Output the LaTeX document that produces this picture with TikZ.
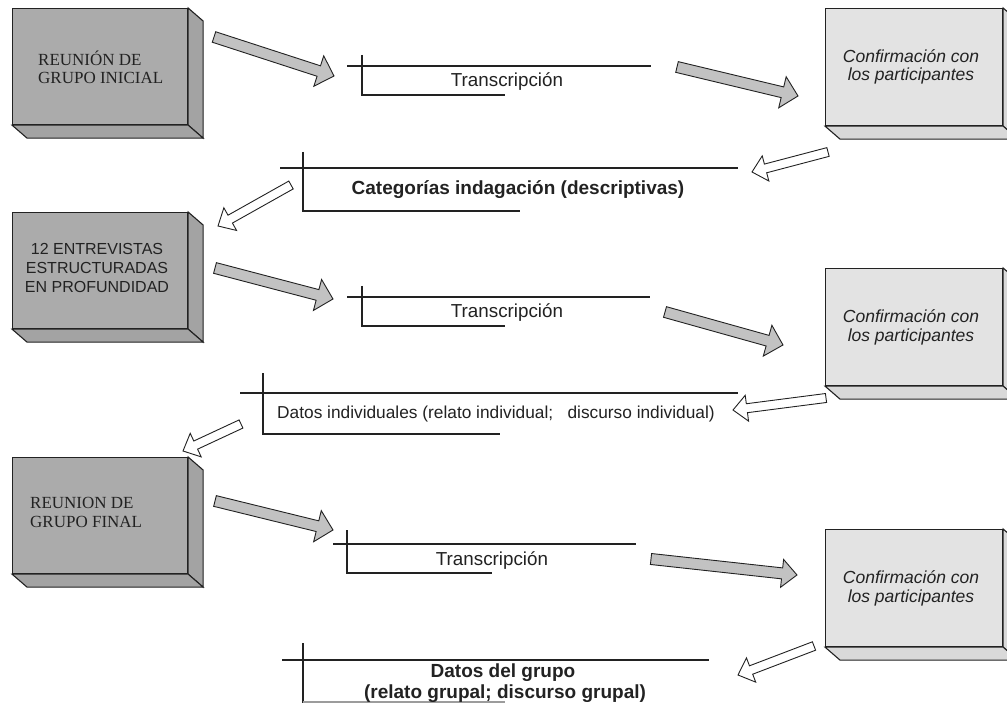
\documentclass[tikz,border=0pt]{standalone}
\usepackage{fontspec}
\setmainfont{Liberation Serif}
\setsansfont{Liberation Sans}
\usetikzlibrary{calc}

\definecolor{darkface}{HTML}{ABABAB}
\definecolor{darkside}{HTML}{A3A3A3}
\definecolor{lightface}{HTML}{E3E3E3}
\definecolor{lightside}{HTML}{D9D9D9}
\definecolor{arrowgray}{HTML}{C2C2C2}
\definecolor{ink}{HTML}{222222}

\tikzset{
  face/.style={draw=ink, line width=1.1pt, line join=miter},
  darkbox/.style={face, fill=darkface, anchor=north west, minimum width=175pt, minimum height=116pt, inner sep=0pt},
  lightbox/.style={face, fill=lightface, anchor=north west, minimum width=177pt, minimum height=117pt, inner sep=0pt},
  rule/.style={draw=ink, line width=1.2pt},
  arrowedge/.style={draw=ink, line width=0.9pt, line join=miter},
  grayarrow/.style={arrowedge, fill=arrowgray},
  whitearrow/.style={arrowedge, fill=white},
  serifline/.style={anchor=base west, inner sep=0pt, text=ink, font=\fontsize{17}{20}\selectfont},
  capsline/.style={anchor=base, inner sep=0pt, text=ink, font=\sffamily\fontsize{16}{19}\selectfont},
  confline/.style={anchor=base, inner sep=0pt, text=ink, font=\sffamily\itshape\fontsize{17.5}{20}\selectfont},
  plainlabel/.style={anchor=base, inner sep=0pt, text=ink, font=\sffamily\fontsize{18.8}{22}\selectfont},
  smalllabel/.style={anchor=base, inner sep=0pt, text=ink, font=\sffamily\fontsize{17.3}{20}\selectfont},
  boldlabel/.style={anchor=base, inner sep=0pt, text=ink, font=\sffamily\bfseries\fontsize{19}{22}\selectfont},
}

% side and bottom faces of a raised box, drawn from the front-face node
\newcommand\boxdepth[2]{%
  \filldraw[face, fill=#2] (#1.north east) -- ++(15,13) -- ($(#1.south east)+(15,13)$) -- (#1.south east) -- cycle;
  \filldraw[face, fill=#2] (#1.south west) -- ++(15,13) -- ($(#1.south east)+(15,13)$) -- (#1.south east) -- cycle;}

% block arrow: style, tail, tip, shaft half-width, head half-width, head length
\newcommand\blockarrow[6]{%
  \draw[#1] let \p1=($(#3)-(#2)$), \n1={atan2(\y1,\x1)}, \n2={veclen(\x1,\y1)} in
    [shift={(#2)}, rotate=\n1]
    (0,#4) -- ({\n2-#6},#4) -- ({\n2-#6},#5) -- (\n2,0) -- ({\n2-#6},-#5) -- ({\n2-#6},-#4) -- (0,-#4) -- cycle;}

\begin{document}
\begin{tikzpicture}[x=1pt, y=-1pt]
\useasboundingbox (0,0) rectangle (1007,703);
\fill[white] (0,0) rectangle (1007,703);
\clip (0,0) rectangle (1007,703);

% ---- left column: group meeting / interviews ----
\node[darkbox] (g1) at (12,8) {};
\boxdepth{g1}{darkside}
\node[serifline] (g1a) at (38,66) {REUNIÓN DE};
\node[serifline] (g1b) at (38,84) {GRUPO INICIAL};

\node[darkbox] (g2) at (12,212) {};
\boxdepth{g2}{darkside}
\node[capsline] (g2a) at (97,255) {12 ENTREVISTAS};
\node[capsline] (g2b) at (97,274) {ESTRUCTURADAS};
\node[capsline] (g2c) at (97,293) {EN PROFUNDIDAD};

\node[darkbox] (g3) at (12,457) {};
\boxdepth{g3}{darkside}
\node[serifline] (g3a) at (30,508) {REUNION DE};
\node[serifline] (g3b) at (30,527) {GRUPO FINAL};

% ---- right column: confirmation with participants ----
\node[lightbox] (c1) at (825,8) {};
\boxdepth{c1}{lightside}
\node[confline] (c1a) at (911,63) {Confirmación con};
\node[confline] (c1b) at (911,81) {los participantes};

\node[lightbox] (c2) at (825,268) {};
\boxdepth{c2}{lightside}
\node[confline] (c2a) at (911,323) {Confirmación con};
\node[confline] (c2b) at (911,342) {los participantes};

\node[lightbox] (c3) at (825,529) {};
\boxdepth{c3}{lightside}
\node[confline] (c3a) at (911,583) {Confirmación con};
\node[confline] (c3b) at (911,602) {los participantes};

% ---- bracketed results ----
\draw[rule] (347,66) -- (651,66);
\draw[rule] (362,55) -- (362,95) -- (505,95);
\node[plainlabel] (t1) at (507,87) {Transcripción};

\draw[rule] (280,168) -- (738,168);
\draw[rule] (303,152) -- (303,211) -- (520,211);
\node[boldlabel] (k1) at (518,195) {Categorías indagación (descriptivas)};

\draw[rule] (347,297) -- (650,297);
\draw[rule] (362,286) -- (362,326) -- (505,326);
\node[plainlabel] (t2) at (507,318) {Transcripción};

\draw[rule] (240,393) -- (738,393);
\draw[rule] (263,373) -- (263,434) -- (500,434);
\node[smalllabel] (d1) at (496,418) {Datos individuales (relato individual;\ \ \ discurso individual)};

\draw[rule] (333,544) -- (636,544);
\draw[rule] (347,530) -- (347,573) -- (492,573);
\node[plainlabel] (t3) at (492,565) {Transcripción};

\draw[rule] (282,660) -- (709,660);
\draw[rule] (303,643) -- (303,703);
\draw[rule, draw=ink!45] (303,702) -- (505,702);
\node[boldlabel] (d2a) at (503,677) {Datos del grupo};
\node[boldlabel] (d2b) at (505,698) {(relato grupal; discurso grupal)};

% ---- arrow end points ----
\coordinate (a1t) at (214,37);  \coordinate (a1h) at (334,76);
\coordinate (a2t) at (677,67);  \coordinate (a2h) at (798,96);
\coordinate (a3t) at (828,152); \coordinate (a3h) at (752,172);
\coordinate (a4t) at (291,185); \coordinate (a4h) at (218,226);
\coordinate (a5t) at (215,268); \coordinate (a5h) at (333,299);
\coordinate (a6t) at (665,312); \coordinate (a6h) at (783,345);
\coordinate (a7t) at (826,398); \coordinate (a7h) at (733,410);
\coordinate (a8t) at (241,424); \coordinate (a8h) at (183,451);
\coordinate (a9t) at (215,501); \coordinate (a9h) at (333,530);
\coordinate (a10t) at (651,559); \coordinate (a10h) at (797,575);
\coordinate (a11t) at (814,646); \coordinate (a11h) at (738,675);

% ---- block arrows ----
\blockarrow{grayarrow}{a1t}{a1h}{5.5}{16}{16}
\blockarrow{grayarrow}{a2t}{a2h}{5.5}{16}{16}
\blockarrow{whitearrow}{a3t}{a3h}{4.5}{13}{14}
\blockarrow{whitearrow}{a4t}{a4h}{4.5}{13}{14}
\blockarrow{grayarrow}{a5t}{a5h}{5.5}{16}{16}
\blockarrow{grayarrow}{a6t}{a6h}{5.5}{16}{16}
\blockarrow{whitearrow}{a7t}{a7h}{4.5}{13}{14}
\blockarrow{whitearrow}{a8t}{a8h}{4.5}{13}{14}
\blockarrow{grayarrow}{a9t}{a9h}{5.5}{16}{16}
\blockarrow{grayarrow}{a10t}{a10h}{5.5}{14}{15}
\blockarrow{whitearrow}{a11t}{a11h}{4.5}{13}{14}
\end{tikzpicture}
\end{document}
